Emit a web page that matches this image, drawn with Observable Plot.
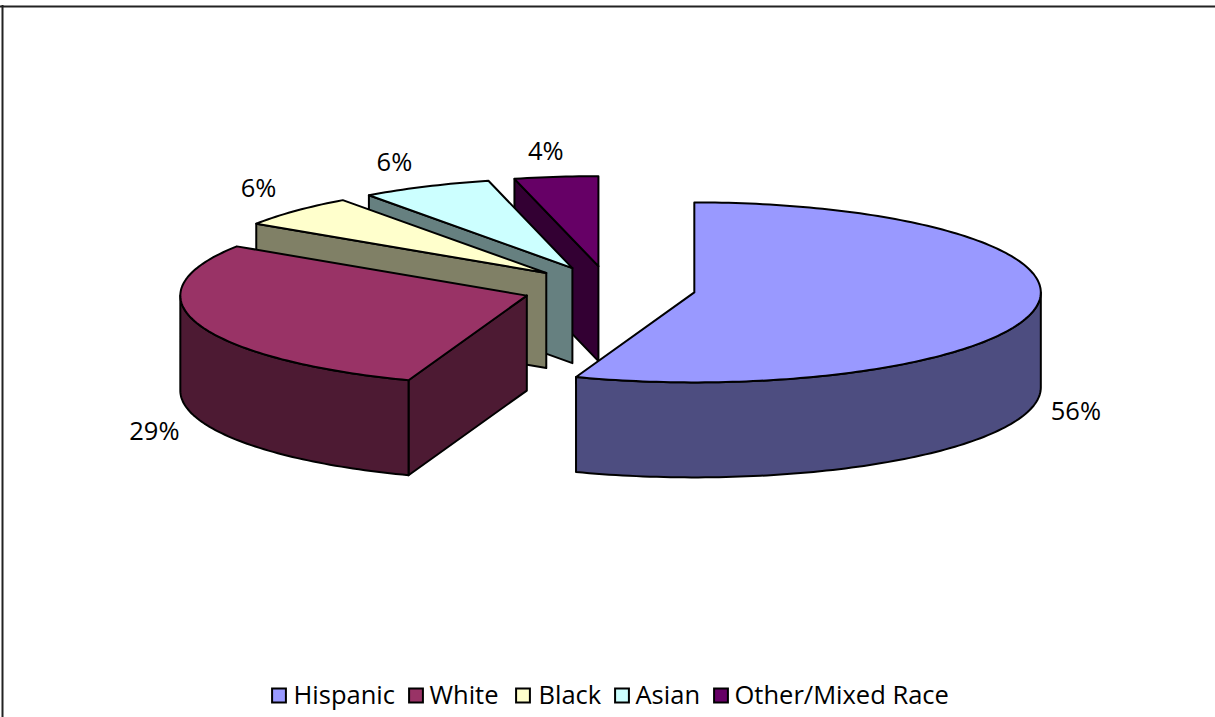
<!DOCTYPE html>
<html><head><meta charset="utf-8">
<script src="https://cdn.jsdelivr.net/npm/d3@7"></script>
<script src="https://cdn.jsdelivr.net/npm/@observablehq/plot@0.6"></script>
<style>html,body{margin:0;padding:0;background:#fff}svg{display:block}</style>
</head><body><div id="chart"></div>
<script>
const categories = ["Hispanic","White","Black","Asian","Other/Mixed Race"];
const shares = [55.6,28.7,5.8,6.1,3.9];
const topColors = ["#9999FF","#993366","#FFFFCC","#CCFFFF","#660066"];
const wallColors = ["#4D4D80","#4D1A33","#808066","#668080","#330033"];
const labelNudgeX = [-3,-2,-5,-13,-5];
const labelNudgeY = [4,5,-4,0,1];
const legendSwatchX = [278.5,415.5,522.5,621.5,720.5];
const legendTextX = [293,429,538,635,734];

const W=1215,H=717,FONT='"Open Sans"',FS=25.5;
const cx=608.5,cy=288,R=346.5,Ry=90,depth=95,explode=0.25;
const total=d3.sum(shares);
let acc=0;
const slices=categories.map((name,i)=>{
  const a0=acc/total*2*Math.PI; acc+=shares[i]; const a1=acc/total*2*Math.PI; const m=(a0+a1)/2;
  return {name,i,a0,a1,m,ax:cx+explode*R*Math.sin(m),ay:cy-explode*Ry*Math.cos(m)};
});
const rim=(s,a,r=R,ry=Ry)=>[s.ax+r*Math.sin(a),s.ay-ry*Math.cos(a)];
const arc=(s,a0,a1)=>{const n=Math.max(2,Math.ceil((a1-a0)/0.02));return d3.range(n+1).map(k=>rim(s,a0+(a1-a0)*k/n));};
const polys=[]; let pid=0;
const add=(pts,fill)=>{const id=pid++;[...pts,pts[0]].forEach(p=>polys.push({x:p[0],y:p[1],id,fill}));};
const down=p=>[p[0],p[1]+depth];
for(const s of [...slices].reverse()){
  const wall=wallColors[s.i];
  // cut face at the start angle, seen when it faces the viewer
  if(s.a0>Math.PI){const e=rim(s,s.a0);add([[s.ax,s.ay],e,down(e),[s.ax,s.ay+depth]],wall);}
  // outer wall: front half of the rim only
  const f0=Math.max(s.a0,Math.PI/2),f1=Math.min(s.a1,1.5*Math.PI);
  if(f1>f0){const t=arc(s,f0,f1);add([...t,...t.slice().reverse().map(down)],wall);}
  add([[s.ax,s.ay],...arc(s,s.a0,s.a1)],topColors[s.i]);
}
const labels=slices.map(s=>{const front=Math.cos(s.m)<0;
  const p=rim(s,s.m,R+44,Ry+26);
  return {x:p[0]+labelNudgeX[s.i],y:p[1]+(front?depth:0)+labelNudgeY[s.i],t:Math.round(shares[s.i])+"%"};});
const legend=categories.map((name,i)=>({name,sx:legendSwatchX[i],tx:legendTextX[i],fill:topColors[i]}));
const plot=Plot.plot({width:W,height:H,margin:0,
  x:{domain:[0,W],range:[0,W],axis:null},y:{domain:[0,H],range:[0,H],axis:null},
  style:{background:"#fff",fontFamily:FONT},
  marks:[
    Plot.ruleY([6],{stroke:"#222",strokeWidth:2}),
    Plot.ruleX([2],{y1:5,y2:H,stroke:"#222",strokeWidth:2}),
    Plot.line(polys,{x:"x",y:"y",z:"id",fill:"fill",stroke:"#000",strokeWidth:2,strokeLinejoin:"round"}),
    Plot.text(labels,{x:"x",y:"y",text:"t",fontSize:FS,fill:"#000",fontFamily:FONT}),
    Plot.dot(legend,{x:"sx",y:()=>695,symbol:"square",r:7.8,fill:"fill",stroke:"#000",strokeWidth:2}),
    Plot.text(legend,{x:"tx",y:()=>695,text:"name",textAnchor:"start",fontSize:FS,fill:"#000",fontFamily:FONT})
  ]});
document.getElementById("chart").appendChild(plot);
</script></body></html>
